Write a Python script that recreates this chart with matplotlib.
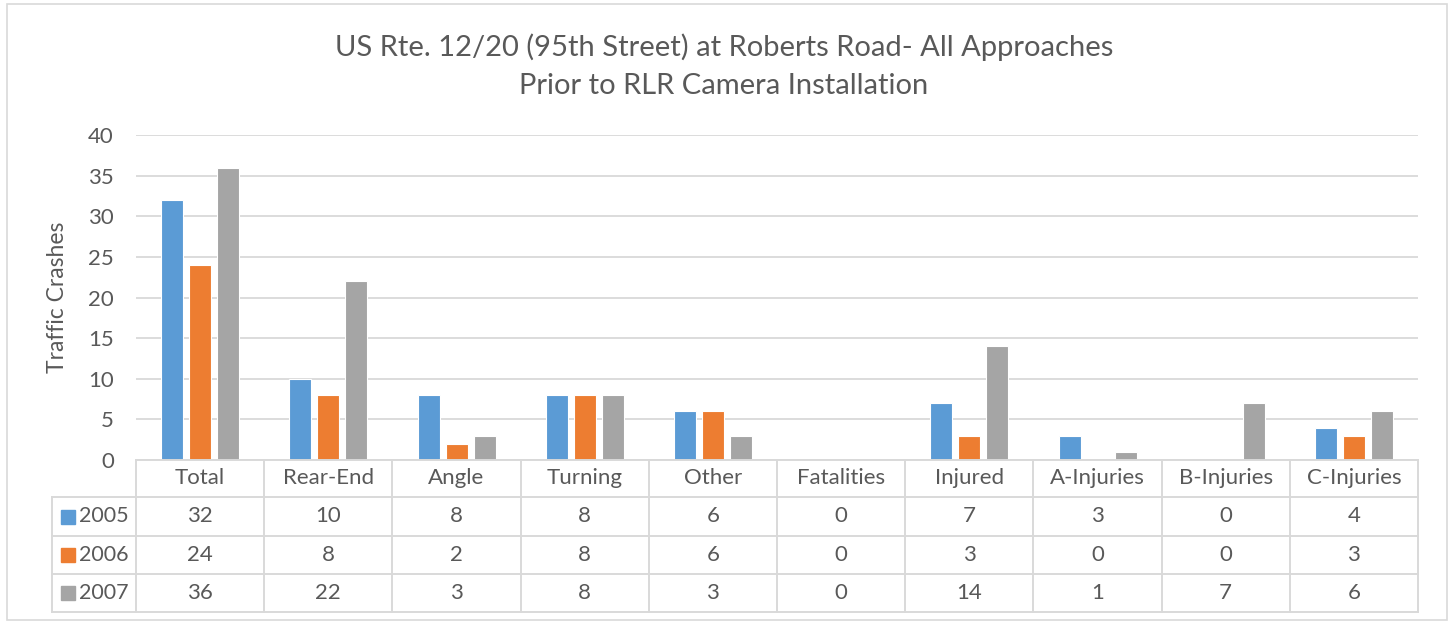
import matplotlib
matplotlib.use("Agg")
import matplotlib.pyplot as plt
from matplotlib.patches import Rectangle
from matplotlib.lines import Line2D
import numpy as np

categories = ["Total", "Rear-End", "Angle", "Turning", "Other", "Fatalities",
              "Injured", "A-Injuries", "B-Injuries", "C-Injuries"]
series_names = ["2005", "2006", "2007"]
v2005 = [32, 10, 8, 8, 6, 0, 7, 3, 0, 4]
v2006 = [24, 8, 2, 8, 6, 0, 3, 0, 0, 3]
v2007 = [36, 22, 3, 8, 3, 0, 14, 1, 7, 6]
yticks = [0, 5, 10, 15, 20, 25, 30, 35, 40]
title = "US Rte. 12/20 (95th Street) at Roberts Road- All Approaches\nPrior to RLR Camera Installation"
ylabel = "Traffic Crashes"

colors = ["#5B9BD5", "#ED7D31", "#A5A5A5"]
txt = "#595959"
grid = "#D9D9D9"
FONT = ["Lato", "DejaVu Sans"]
plt.rcParams["font.family"] = FONT

W, H = 1450, 623
fig = plt.figure(figsize=(W / 100, H / 100), dpi=100)

def fx(x):
    return x / W

def fy(y):
    return 1 - y / H

# outer border
fig.add_artist(Rectangle((fx(7), fy(620)), fx(1447) - fx(7), fy(4) - fy(620),
                         transform=fig.transFigure, fill=False, ec="#D9D9D9", lw=1.2))

L, R, T, B = 136, 1418, 135, 460
ax = fig.add_axes([fx(L), fy(B), fx(R) - fx(L), fy(T) - fy(B)])
ax.set_xlim(-0.5, len(categories) - 0.5)
ax.set_ylim(0, 40)
for s in ax.spines.values():
    s.set_visible(False)
ax.set_yticks(yticks)
ax.yaxis.grid(True, color=grid, lw=1.3)
ax.set_axisbelow(True)
ax.tick_params(axis="y", length=0, pad=16, labelsize=16, labelcolor=txt)
ax.set_xticks([])
ax.set_ylabel(ylabel, fontsize=16.5, color=txt)
ax.yaxis.set_label_coords((68 - L) / (R - L), 0.5)

x = np.arange(len(categories))
bw = 22 / 128.2
step = 28 / 128.2
for i, vals in enumerate([v2005, v2006, v2007]):
    ax.bar(x + (i - 1) * step, vals, width=bw, color=colors[i], ec="white", lw=0.8, zorder=3)

fig.text(fx(724), fy(66), title, ha="center", va="center", fontsize=21,
         color=txt, linespacing=1.55)

# data table
lc = grid
lw = 1.4
col_edges = np.linspace(L, R, len(categories) + 1)
rows_y = [460, 497, 536, 574, 612]
legL = 52

def hline(x0, x1, y):
    fig.add_artist(Line2D([fx(x0), fx(x1)], [fy(y), fy(y)], transform=fig.transFigure, color=lc, lw=lw))

def vline(xx, y0, y1):
    fig.add_artist(Line2D([fx(xx), fx(xx)], [fy(y0), fy(y1)], transform=fig.transFigure, color=lc, lw=lw))

hline(L, R, rows_y[0])
for yy in rows_y[1:]:
    hline(legL, R, yy)
for xe in col_edges:
    vline(xe, rows_y[0], rows_y[-1])
vline(legL, rows_y[1], rows_y[-1])

centers = (col_edges[:-1] + col_edges[1:]) / 2
for c, name in zip(centers, categories):
    fig.text(fx(c), fy((rows_y[0] + rows_y[1]) / 2), name, ha="center", va="center",
             fontsize=16, color=txt)
for r, (name, vals) in enumerate(zip(series_names, [v2005, v2006, v2007])):
    yc = (rows_y[r + 1] + rows_y[r + 2]) / 2
    fig.add_artist(Rectangle((fx(61), fy(yc + 7)), fx(14), 14 / H,
                             transform=fig.transFigure, color=colors[r]))
    fig.text(fx(79), fy(yc), name, ha="left", va="center", fontsize=15.5, color=txt)
    for c, v in zip(centers, vals):
        fig.text(fx(c), fy(yc), str(v), ha="center", va="center", fontsize=16, color=txt)

fig.savefig("out.png", dpi=100)
